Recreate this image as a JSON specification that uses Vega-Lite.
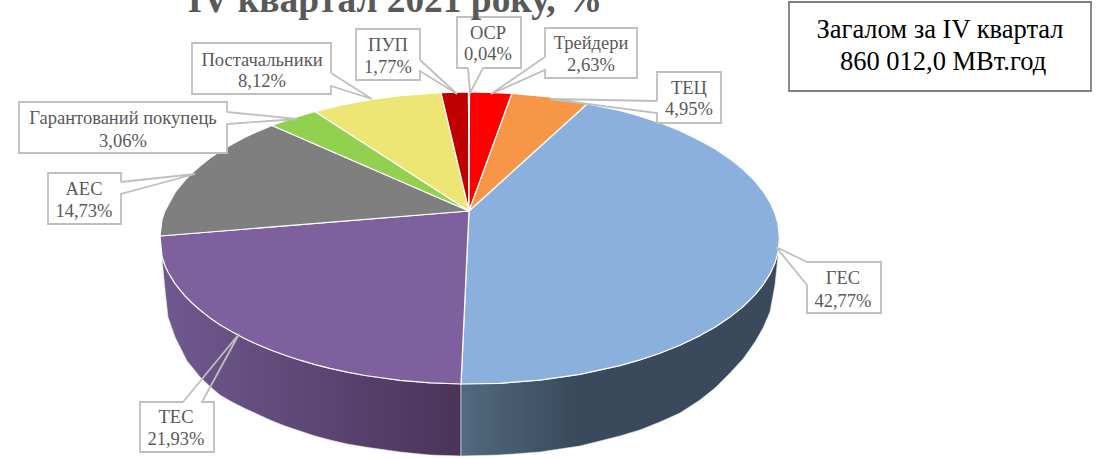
{
"$schema":"https://vega.github.io/schema/vega-lite/v6.json",
"width":1099,"height":458,"padding":0,"autosize":{"type":"none"},
"background":"white","view":{"stroke":null},
"datasets":{
"walls":[
{"w":"ТЕС","x":162,"y":256.5,"y2":258},{"w":"ТЕС","x":165,"y":265.4,"y2":290},{"w":"ТЕС","x":168,"y":272,"y2":317},{"w":"ТЕС","x":175,"y":283.6,"y2":337},{"w":"ТЕС","x":187,"y":298,"y2":361},{"w":"ТЕС","x":192,"y":303,"y2":367},{"w":"ТЕС","x":200,"y":310,"y2":377},{"w":"ТЕС","x":210,"y":317.9,"y2":386.5},{"w":"ТЕС","x":220,"y":324.7,"y2":395},{"w":"ТЕС","x":232,"y":331.8,"y2":402},{"w":"ТЕС","x":245,"y":338.7,"y2":408.5},{"w":"ТЕС","x":257,"y":344.3,"y2":414},{"w":"ТЕС","x":270,"y":349.8,"y2":420},{"w":"ТЕС","x":285,"y":355.3,"y2":426},{"w":"ТЕС","x":300,"y":360.2,"y2":431},{"w":"ТЕС","x":315,"y":364.6,"y2":436},{"w":"ТЕС","x":330,"y":368.4,"y2":440},{"w":"ТЕС","x":347,"y":372.1,"y2":444},{"w":"ТЕС","x":365,"y":375.5,"y2":447},{"w":"ТЕС","x":400,"y":380.3,"y2":452},{"w":"ТЕС","x":430,"y":382.8,"y2":455},{"w":"ТЕС","x":461,"y":383.9,"y2":456},
{"w":"ГЕС","x":461,"y":383.9,"y2":456},{"w":"ГЕС","x":500,"y":383.3,"y2":455},{"w":"ГЕС","x":540,"y":380.2,"y2":452},{"w":"ГЕС","x":580,"y":374.4,"y2":446},{"w":"ГЕС","x":620,"y":365.6,"y2":436},{"w":"ГЕС","x":640,"y":359.9,"y2":430},{"w":"ГЕС","x":660,"y":353.2,"y2":422},{"w":"ГЕС","x":680,"y":345.2,"y2":413},{"w":"ГЕС","x":700,"y":335.6,"y2":400},{"w":"ГЕС","x":715,"y":327.2,"y2":388},{"w":"ГЕС","x":730,"y":317.1,"y2":373},{"w":"ГЕС","x":743,"y":306.7,"y2":359},{"w":"ГЕС","x":755,"y":294.9,"y2":342},{"w":"ГЕС","x":763,"y":285,"y2":328},{"w":"ГЕС","x":770,"y":273.9,"y2":312},{"w":"ГЕС","x":775,"y":262.8,"y2":285},{"w":"ГЕС","x":778,"y":252.3,"y2":256}
],
"slices":[
{"s":"ГЕС","i":0,"x":469,"y":211},{"s":"ГЕС","i":1,"x":587,"y":104},{"s":"ГЕС","i":2,"x":620,"y":110.4},{"s":"ГЕС","i":3,"x":640,"y":116.1},{"s":"ГЕС","i":4,"x":660,"y":122.8},{"s":"ГЕС","i":5,"x":680,"y":130.8},{"s":"ГЕС","i":6,"x":700,"y":140.4},{"s":"ГЕС","i":7,"x":715,"y":148.8},{"s":"ГЕС","i":8,"x":730,"y":158.9},{"s":"ГЕС","i":9,"x":743,"y":169.3},{"s":"ГЕС","i":10,"x":755,"y":181.1},{"s":"ГЕС","i":11,"x":763,"y":191},{"s":"ГЕС","i":12,"x":770,"y":202.1},{"s":"ГЕС","i":13,"x":775,"y":213.2},{"s":"ГЕС","i":14,"x":778,"y":223.7},{"s":"ГЕС","i":15,"x":779.5,"y":238},{"s":"ГЕС","i":16,"x":778,"y":252.3},{"s":"ГЕС","i":17,"x":775,"y":262.8},{"s":"ГЕС","i":18,"x":770,"y":273.9},{"s":"ГЕС","i":19,"x":763,"y":285},{"s":"ГЕС","i":20,"x":755,"y":294.9},{"s":"ГЕС","i":21,"x":743,"y":306.7},{"s":"ГЕС","i":22,"x":730,"y":317.1},{"s":"ГЕС","i":23,"x":715,"y":327.2},{"s":"ГЕС","i":24,"x":700,"y":335.6},{"s":"ГЕС","i":25,"x":680,"y":345.2},{"s":"ГЕС","i":26,"x":660,"y":353.2},{"s":"ГЕС","i":27,"x":640,"y":359.9},{"s":"ГЕС","i":28,"x":620,"y":365.6},{"s":"ГЕС","i":29,"x":580,"y":374.4},{"s":"ГЕС","i":30,"x":540,"y":380.2},{"s":"ГЕС","i":31,"x":500,"y":383.3},{"s":"ГЕС","i":32,"x":461,"y":384},{"s":"ГЕС","i":33,"x":469,"y":211},
{"s":"ТЕС","i":0,"x":469,"y":211},{"s":"ТЕС","i":1,"x":461,"y":384},{"s":"ТЕС","i":2,"x":430,"y":382.8},{"s":"ТЕС","i":3,"x":400,"y":380.3},{"s":"ТЕС","i":4,"x":365,"y":375.5},{"s":"ТЕС","i":5,"x":347,"y":372.1},{"s":"ТЕС","i":6,"x":330,"y":368.4},{"s":"ТЕС","i":7,"x":315,"y":364.6},{"s":"ТЕС","i":8,"x":300,"y":360.2},{"s":"ТЕС","i":9,"x":285,"y":355.3},{"s":"ТЕС","i":10,"x":270,"y":349.8},{"s":"ТЕС","i":11,"x":257,"y":344.3},{"s":"ТЕС","i":12,"x":245,"y":338.7},{"s":"ТЕС","i":13,"x":232,"y":331.8},{"s":"ТЕС","i":14,"x":220,"y":324.7},{"s":"ТЕС","i":15,"x":210,"y":317.9},{"s":"ТЕС","i":16,"x":200,"y":310},{"s":"ТЕС","i":17,"x":192,"y":303},{"s":"ТЕС","i":18,"x":185,"y":296},{"s":"ТЕС","i":19,"x":175,"y":283.6},{"s":"ТЕС","i":20,"x":168,"y":272},{"s":"ТЕС","i":21,"x":165,"y":265.4},{"s":"ТЕС","i":22,"x":162,"y":256.5},{"s":"ТЕС","i":23,"x":160,"y":236},{"s":"ТЕС","i":24,"x":469,"y":211},
{"s":"АЕС","i":0,"x":469,"y":211},{"s":"АЕС","i":1,"x":160,"y":236},{"s":"АЕС","i":2,"x":162,"y":219.5},{"s":"АЕС","i":3,"x":165,"y":210.6},{"s":"АЕС","i":4,"x":175,"y":192.4},{"s":"АЕС","i":5,"x":185,"y":180},{"s":"АЕС","i":6,"x":192,"y":173},{"s":"АЕС","i":7,"x":200,"y":166},{"s":"АЕС","i":8,"x":210,"y":158.1},{"s":"АЕС","i":9,"x":220,"y":151.3},{"s":"АЕС","i":10,"x":232,"y":144.2},{"s":"АЕС","i":11,"x":245,"y":137.3},{"s":"АЕС","i":12,"x":257,"y":131.7},{"s":"АЕС","i":13,"x":272,"y":125.5},{"s":"АЕС","i":14,"x":469,"y":211},
{"s":"Гарантований покупець","i":0,"x":469,"y":211},{"s":"Гарантований покупець","i":1,"x":272,"y":125.5},{"s":"Гарантований покупець","i":2,"x":295,"y":117.3},{"s":"Гарантований покупець","i":3,"x":315,"y":111.4},{"s":"Гарантований покупець","i":4,"x":469,"y":211},
{"s":"Постачальники","i":0,"x":469,"y":211},{"s":"Постачальники","i":1,"x":315,"y":111.4},{"s":"Постачальники","i":2,"x":340,"y":105.3},{"s":"Постачальники","i":3,"x":370,"y":99.7},{"s":"Постачальники","i":4,"x":400,"y":95.7},{"s":"Постачальники","i":5,"x":441,"y":92.6},{"s":"Постачальники","i":6,"x":469,"y":211},
{"s":"ПУП","i":0,"x":469,"y":211},{"s":"ПУП","i":1,"x":441,"y":92.6},{"s":"ПУП","i":2,"x":468.5,"y":92},{"s":"ПУП","i":3,"x":469,"y":211},
{"s":"ОСР","i":0,"x":469,"y":211},{"s":"ОСР","i":1,"x":468.5,"y":92},{"s":"ОСР","i":2,"x":469.5,"y":92},{"s":"ОСР","i":3,"x":469,"y":211},
{"s":"Трейдери","i":0,"x":469,"y":211},{"s":"Трейдери","i":1,"x":469.5,"y":92},{"s":"Трейдери","i":2,"x":490,"y":92.3},{"s":"Трейдери","i":3,"x":512,"y":93.4},{"s":"Трейдери","i":4,"x":469,"y":211},
{"s":"ТЕЦ","i":0,"x":469,"y":211},{"s":"ТЕЦ","i":1,"x":512,"y":93.4},{"s":"ТЕЦ","i":2,"x":550,"y":97},{"s":"ТЕЦ","i":3,"x":587,"y":104},{"s":"ТЕЦ","i":4,"x":469,"y":211}
],
"boxes":[
{"l":"Постачальники","x":192,"x2":331,"y":43,"y2":94},
{"l":"Гарантований покупець","x":19,"x2":227,"y":102,"y2":153},
{"l":"АЕС","x":48,"x2":121,"y":173,"y2":224},
{"l":"ПУП","x":356,"x2":420,"y":29,"y2":80},
{"l":"ОСР","x":457,"x2":521,"y":17,"y2":68},
{"l":"Трейдери","x":545,"x2":637,"y":28,"y2":78},
{"l":"ТЕЦ","x":657,"x2":721,"y":72,"y2":123},
{"l":"ГЕС","x":807,"x2":881,"y":262,"y2":313},
{"l":"ТЕС","x":140,"x2":214,"y":402,"y2":452}
],
"callouts":[
{"l":"Постачальники","i":0,"x":331,"y":73},{"l":"Постачальники","i":1,"x":331,"y":43},{"l":"Постачальники","i":2,"x":192,"y":43},{"l":"Постачальники","i":3,"x":192,"y":94},{"l":"Постачальники","i":4,"x":331,"y":94},{"l":"Постачальники","i":5,"x":331,"y":86},{"l":"Постачальники","i":6,"x":372,"y":99},{"l":"Постачальники","i":7,"x":331,"y":73},
{"l":"Гарантований покупець","i":0,"x":227,"y":112},{"l":"Гарантований покупець","i":1,"x":227,"y":102},{"l":"Гарантований покупець","i":2,"x":19,"y":102},{"l":"Гарантований покупець","i":3,"x":19,"y":153},{"l":"Гарантований покупець","i":4,"x":227,"y":153},{"l":"Гарантований покупець","i":5,"x":227,"y":124},{"l":"Гарантований покупець","i":6,"x":297,"y":119},{"l":"Гарантований покупець","i":7,"x":227,"y":112},
{"l":"АЕС","i":0,"x":121,"y":182},{"l":"АЕС","i":1,"x":121,"y":173},{"l":"АЕС","i":2,"x":48,"y":173},{"l":"АЕС","i":3,"x":48,"y":224},{"l":"АЕС","i":4,"x":121,"y":224},{"l":"АЕС","i":5,"x":121,"y":194},{"l":"АЕС","i":6,"x":195,"y":174},{"l":"АЕС","i":7,"x":121,"y":182},
{"l":"ПУП","i":0,"x":420,"y":60},{"l":"ПУП","i":1,"x":420,"y":29},{"l":"ПУП","i":2,"x":356,"y":29},{"l":"ПУП","i":3,"x":356,"y":80},{"l":"ПУП","i":4,"x":420,"y":80},{"l":"ПУП","i":5,"x":420,"y":71},{"l":"ПУП","i":6,"x":457,"y":94},{"l":"ПУП","i":7,"x":420,"y":60},
{"l":"ОСР","i":0,"x":468,"y":68},{"l":"ОСР","i":1,"x":457,"y":68},{"l":"ОСР","i":2,"x":457,"y":17},{"l":"ОСР","i":3,"x":521,"y":17},{"l":"ОСР","i":4,"x":521,"y":68},{"l":"ОСР","i":5,"x":483,"y":68},{"l":"ОСР","i":6,"x":470,"y":93},{"l":"ОСР","i":7,"x":468,"y":68},
{"l":"Трейдери","i":0,"x":545,"y":57},{"l":"Трейдери","i":1,"x":545,"y":28},{"l":"Трейдери","i":2,"x":637,"y":28},{"l":"Трейдери","i":3,"x":637,"y":78},{"l":"Трейдери","i":4,"x":545,"y":78},{"l":"Трейдери","i":5,"x":545,"y":70},{"l":"Трейдери","i":6,"x":491,"y":94},{"l":"Трейдери","i":7,"x":545,"y":57},
{"l":"ТЕЦ","i":0,"x":657,"y":101},{"l":"ТЕЦ","i":1,"x":657,"y":72},{"l":"ТЕЦ","i":2,"x":721,"y":72},{"l":"ТЕЦ","i":3,"x":721,"y":123},{"l":"ТЕЦ","i":4,"x":657,"y":123},{"l":"ТЕЦ","i":5,"x":657,"y":113},{"l":"ТЕЦ","i":6,"x":550,"y":99},{"l":"ТЕЦ","i":7,"x":657,"y":101},
{"l":"ГЕС","i":0,"x":807,"y":262},{"l":"ГЕС","i":1,"x":881,"y":262},{"l":"ГЕС","i":2,"x":881,"y":313},{"l":"ГЕС","i":3,"x":807,"y":313},{"l":"ГЕС","i":4,"x":807,"y":285},{"l":"ГЕС","i":5,"x":776,"y":247},{"l":"ГЕС","i":6,"x":807,"y":262},
{"l":"ТЕС","i":0,"x":183,"y":402},{"l":"ТЕС","i":1,"x":140,"y":402},{"l":"ТЕС","i":2,"x":140,"y":452},{"l":"ТЕС","i":3,"x":214,"y":452},{"l":"ТЕС","i":4,"x":214,"y":402},{"l":"ТЕС","i":5,"x":202,"y":402},{"l":"ТЕС","i":6,"x":239,"y":334},{"l":"ТЕС","i":7,"x":183,"y":402}
],
"labels":[
{"t":"Постачальники","x":262,"y":60},{"t":"8,12%","x":262,"y":81},
{"t":"Гарантований покупець","x":123,"y":118},{"t":"3,06%","x":123,"y":141},
{"t":"АЕС","x":84,"y":189},{"t":"14,73%","x":84,"y":211},
{"t":"ПУП","x":388,"y":45},{"t":"1,77%","x":388,"y":67},
{"t":"ОСР","x":488,"y":33},{"t":"0,04%","x":488,"y":54},
{"t":"Трейдери","x":591,"y":43},{"t":"2,63%","x":591,"y":65},
{"t":"ТЕЦ","x":689,"y":88},{"t":"4,95%","x":689,"y":109},
{"t":"ГЕС","x":843,"y":278},{"t":"42,77%","x":843,"y":301},
{"t":"ТЕС","x":176,"y":417},{"t":"21,93%","x":176,"y":439}
]
},
"encoding":{
"x":{"field":"x","type":"quantitative","scale":{"domain":[0,1099],"nice":false,"zero":false},"axis":null},
"y":{"field":"y","type":"quantitative","scale":{"domain":[458,0],"nice":false,"zero":false},"axis":null}
},
"layer":[
{"data":{"name":"walls"},"transform":[{"filter":"datum.w==='ТЕС'"}],
 "mark":{"type":"area","orient":"vertical","stroke":"#e8e4ee","strokeWidth":0.6,"fill":{"gradient":"linear","x1":0,"y1":0,"x2":1,"y2":0,"stops":[{"offset":0,"color":"#70598f"},{"offset":1,"color":"#4a3459"}]}},
 "encoding":{"y2":{"field":"y2"}}},
{"data":{"name":"walls"},"transform":[{"filter":"datum.w==='ГЕС'"}],
 "mark":{"type":"area","orient":"vertical","stroke":"#e8ecf2","strokeWidth":0.6,"fill":{"gradient":"linear","x1":0,"y1":0,"x2":1,"y2":0,"stops":[{"offset":0,"color":"#52697f"},{"offset":0.36,"color":"#3a4a5c"},{"offset":1,"color":"#3a4a5c"}]}},
 "encoding":{"y2":{"field":"y2"}}},
{"data":{"name":"slices"},
 "mark":{"type":"line","stroke":"white","strokeWidth":1.2,"strokeJoin":"round"},
 "encoding":{"order":{"field":"i"},
  "fill":{"field":"s","type":"nominal","legend":null,"scale":{"domain":["ГЕС","ТЕС","АЕС","Гарантований покупець","Постачальники","ПУП","ОСР","Трейдери","ТЕЦ"],"range":["#8CB0DE","#7F609F","#7F7F7F","#92D050","#EDE674","#C00000","#FF0000","#FF0000","#F79646"]}}}},
{"data":{"name":"boxes"},
 "mark":{"type":"rect","fill":"white"},
 "encoding":{"x2":{"field":"x2"},"y2":{"field":"y2"}}},
{"data":{"name":"callouts"},
 "mark":{"type":"line","stroke":"#BFBFBF","strokeWidth":1.8,"strokeJoin":"miter"},
 "encoding":{"order":{"field":"i"},"detail":{"field":"l"}}},
{"data":{"name":"labels"},
 "mark":{"type":"text","font":"Liberation Serif","fontSize":18.5,"fill":"#595959","align":"center","baseline":"middle"},
 "encoding":{"text":{"field":"t"}}},
{"data":{"values":[{"x":789,"x2":1091,"y":2,"y2":91}]},
 "mark":{"type":"rect","fill":"white","stroke":"#7F7F7F","strokeWidth":1.8},
 "encoding":{"x2":{"field":"x2"},"y2":{"field":"y2"}}},
{"data":{"values":[{"t":"Загалом за IV квартал","x":940,"y":30},{"t":"860 012,0 МВт.год","x":943,"y":62}]},
 "mark":{"type":"text","font":"Liberation Serif","fontSize":26.5,"fill":"black","align":"center","baseline":"middle"},
 "encoding":{"text":{"field":"t"}}},
{"data":{"values":[{"t":"IV квартал 2021 року, %","x":395,"y":12}]},
 "mark":{"type":"text","font":"Liberation Serif","fontSize":37.4,"fontWeight":"bold","fill":"#595959","align":"center","baseline":"alphabetic"},
 "encoding":{"text":{"field":"t"}}}
]
}
